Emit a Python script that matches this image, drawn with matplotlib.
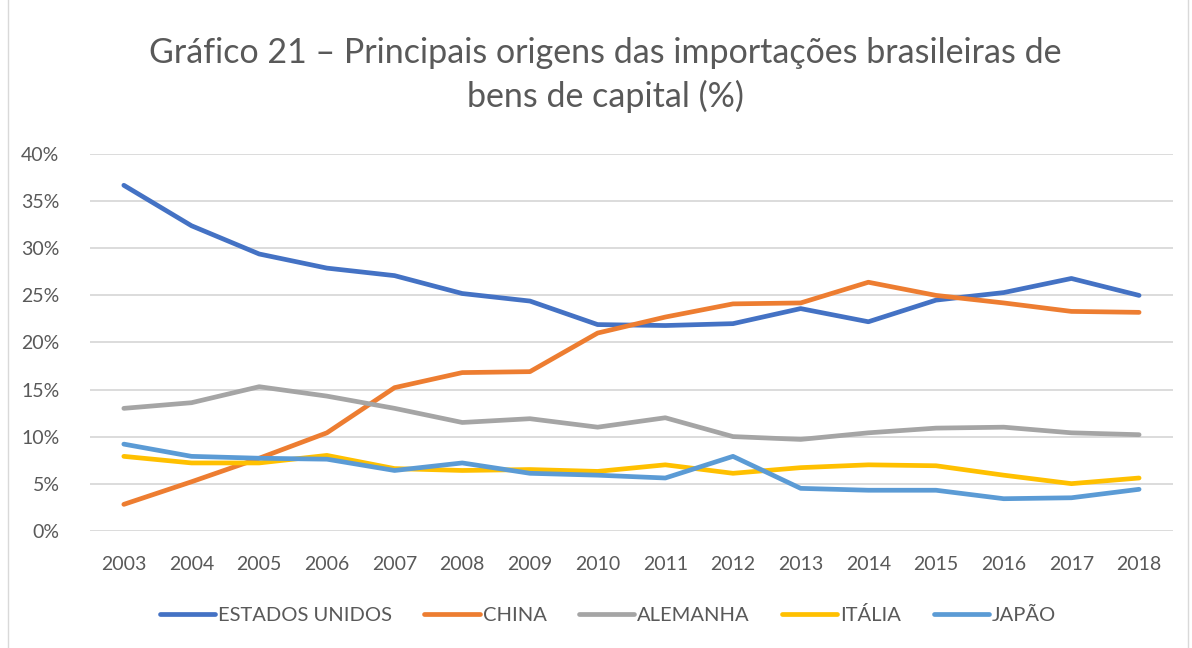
import numpy as np
import matplotlib.pyplot as plt
from matplotlib.patches import Rectangle
from matplotlib.ticker import PercentFormatter

years = [str(y) for y in range(2003, 2019)]
estados_unidos = [36.7, 32.4, 29.4, 27.9, 27.1, 25.2, 24.4, 21.9, 21.8, 22.0, 23.6, 22.2, 24.5, 25.3, 26.8, 25.0]
china = [2.8, 5.2, 7.7, 10.4, 15.2, 16.8, 16.9, 21.0, 22.7, 24.1, 24.2, 26.4, 25.0, 24.2, 23.3, 23.2]
alemanha = [13.0, 13.6, 15.3, 14.3, 13.0, 11.5, 11.9, 11.0, 12.0, 10.0, 9.7, 10.4, 10.9, 11.0, 10.4, 10.2]
italia = [7.9, 7.2, 7.2, 8.0, 6.6, 6.4, 6.5, 6.3, 7.0, 6.1, 6.7, 7.0, 6.9, 5.9, 5.0, 5.6]
japao = [9.2, 7.9, 7.7, 7.6, 6.4, 7.2, 6.1, 5.9, 5.6, 7.9, 4.5, 4.3, 4.3, 3.4, 3.5, 4.4]

series = [
    ("ESTADOS UNIDOS", estados_unidos, "#4472C4"),
    ("CHINA", china, "#ED7D31"),
    ("ALEMANHA", alemanha, "#A5A5A5"),
    ("ITÁLIA", italia, "#FFC000"),
    ("JAPÃO", japao, "#5B9BD5"),
]

plt.rcParams['font.family'] = ['Lato', 'DejaVu Sans']
txt = "#595959"

fig = plt.figure(figsize=(11.92, 6.48), dpi=100)
ax = fig.add_axes([0.0755, 0.181, 0.9085, 0.581])

x = np.arange(len(years))
for name, vals, color in series:
    ax.plot(x, vals, color=color, lw=3.4, label=name, solid_capstyle='round',
            solid_joinstyle='round')

ax.set_xlim(-0.5, len(years) - 0.5)
ax.set_ylim(0, 40)
ax.set_yticks(np.arange(0, 41, 5))
ax.yaxis.set_major_formatter(PercentFormatter(decimals=0))
ax.set_xticks(x)
ax.set_xticklabels(years)
ax.grid(axis='y', color='#D9D9D9', lw=1.3)
ax.set_axisbelow(True)
for s in ax.spines.values():
    s.set_visible(False)
ax.tick_params(length=0, colors=txt, labelsize=14, pad=18)
ax.tick_params(axis='y', pad=22)

fig.text(0.508, 0.885, "Gráfico 21 – Principais origens das importações brasileiras de\nbens de capital (%)",
         ha='center', va='center', fontsize=24.5, color=txt, linespacing=1.4)

fig.legend(loc='center', bbox_to_anchor=(0.51, 0.051), ncol=5, frameon=False,
           fontsize=14.5, labelcolor=txt, handlelength=2.75, handletextpad=0.15,
           columnspacing=1.6)

fig.patches.append(Rectangle((0.007, -0.01), 0.99, 1.02, transform=fig.transFigure,
                             fill=False, edgecolor='#D9D9D9', lw=1))

fig.savefig('out.png', dpi=100)
